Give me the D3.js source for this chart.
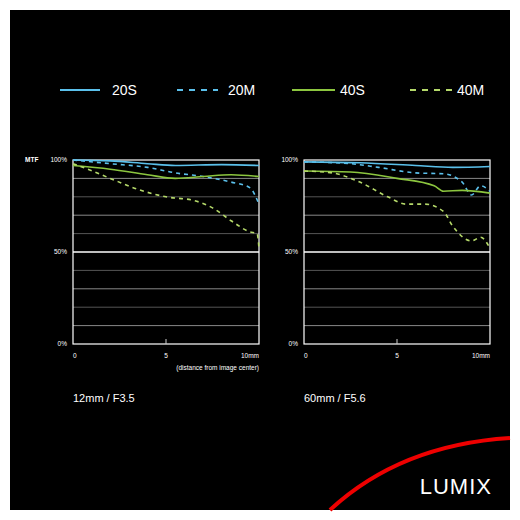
<!DOCTYPE html><html><head><script src="https://cdn.jsdelivr.net/npm/d3@7"></script>
<style>body{margin:0;background:#fff}</style></head><body><svg id="c" width="520" height="520"></svg>
<script>
const seriesNames=["20S","20M","40S","40M"];
const seriesColors=["#5bc0eb","#5bc0eb","#8cc63f","#b5d96a"];
const seriesDash=[false,true,false,true];
const xTicks=[0,5,10];
const yTickLabels=["0%","50%","100%"];
const left20S=[[0,100],[2,99.5],[4,98],[5.5,97],[8,97.5],[10,97]];
const left20M=[[0,100],[2,98],[4,96],[5.5,93],[7,91],[8.5,88],[9.5,85],[10,76]];
const left40S=[[0,97],[2,95],[4,92],[5.5,90],[7,91],[8.5,92],[10,91]];
const left40M=[[0,98],[0.8,95],[2,90],[3.5,84],[5,80],[6.5,78],[7.5,74],[8.5,67],[9.5,61],[9.9,60],[10,52]];
const right20S=[[0,99],[3,98.5],[6,97],[8,96],[10,96.5]];
const right20M=[[0,99],[2.5,98],[4,96],[6,93],[7.5,92.5],[8.5,88],[9,81],[9.5,86],[10,83]];
const right40S=[[0,94],[2.5,93.5],[5,90],[7,86],[7.5,83],[8.5,83.5],[10,82]];
const right40M=[[0,94],[1.5,93],[3,88],[4.5,80],[5.5,76],[6.5,76],[7.5,72],[8,64],[9,56],[9.5,58],[10,52]];
const panels=[{x0:73,x1:259,data:[left20S,left20M,left40S,left40M],cap:"12mm / F3.5",sub:true,mtf:true},
{x0:304,x1:490,data:[right20S,right20M,right40S,right40M],cap:"60mm / F5.6",sub:false,mtf:false}];
const svg=d3.select("#c");
svg.append("rect").attr("x",10).attr("y",10).attr("width",500).attr("height",500).attr("fill","#000");
const font="Liberation Sans, Arial, sans-serif";
// legend
const lx=[[60,100,112],[177,218,228],[292,335,340],[410,452,457]];
seriesNames.forEach((n,i)=>{
 svg.append("line").attr("x1",lx[i][0]).attr("x2",lx[i][1]).attr("y1",90).attr("y2",90).attr("stroke",seriesColors[i]).attr("stroke-width",2).attr("stroke-dasharray",seriesDash[i]?"6,6":null);
 svg.append("text").attr("x",lx[i][2]).attr("y",95).text(n).attr("fill","#fff").attr("font-family",font).attr("font-size",14);
});
const y=d3.scaleLinear().domain([0,100]).range([344,160]);
panels.forEach(p=>{
 const x=d3.scaleLinear().domain([0,10]).range([p.x0,p.x1]);
 const g=svg.append("g");
 d3.range(10,100,10).forEach(v=>g.append("line").attr("x1",p.x0).attr("x2",p.x1).attr("y1",y(v)).attr("y2",y(v)).attr("stroke",v===50?"#fff":(v%20===0?"#555":"#888")).attr("stroke-width",v===50?1.5:1));
 g.append("rect").attr("x",p.x0).attr("y",y(100)).attr("width",p.x1-p.x0).attr("height",y(0)-y(100)).attr("fill","none").attr("stroke","#fff").attr("stroke-width",1.2);
 g.append("line").attr("x1",x(5)).attr("x2",x(5)).attr("y1",y(0)).attr("y2",y(0)-5).attr("stroke","#ccc");
 [0,50,100].forEach((v,i)=>g.append("text").attr("x",p.x0-6).attr("y",y(v)+2).attr("text-anchor","end").text(yTickLabels[i]).attr("fill","#fff").attr("font-family",font).attr("font-size",6.5));
 xTicks.forEach(t=>g.append("text").attr("x",x(t)).attr("y",358).attr("text-anchor",t===0?"start":t===10?"end":"middle").text(t===10?"10mm":t).attr("fill","#fff").attr("font-family",font).attr("font-size",6.5));
 if(p.sub) g.append("text").attr("x",p.x1).attr("y",370).attr("text-anchor","end").text("(distance from image center)").attr("fill","#fff").attr("font-family",font).attr("font-size",6.5);
 if(p.mtf) g.append("text").attr("x",25).attr("y",162).text("MTF").attr("fill","#fff").attr("font-family",font).attr("font-weight","bold").attr("font-size",6.5);
 const line=d3.line().x(d=>x(d[0])).y(d=>y(d[1])).curve(d3.curveMonotoneX);
 p.data.forEach((d,i)=>g.append("path").attr("d",line(d)).attr("fill","none").attr("stroke",seriesColors[i]).attr("stroke-width",1.6).attr("stroke-dasharray",seriesDash[i]?"4,4":null));
 g.append("text").attr("x",p.x0).attr("y",402).text(p.cap).attr("fill","#fff").attr("font-family",font).attr("font-size",11);
});
// logo
svg.append("path").attr("d","M330,510 Q400,445 510,438").attr("fill","none").attr("stroke","#e00").attr("stroke-width",4);
svg.append("text").attr("x",492).attr("y",494).attr("text-anchor","end").text("LUMIX").attr("fill","#fff").attr("font-family",font).attr("font-size",22).attr("letter-spacing",1);
</script></body></html>
